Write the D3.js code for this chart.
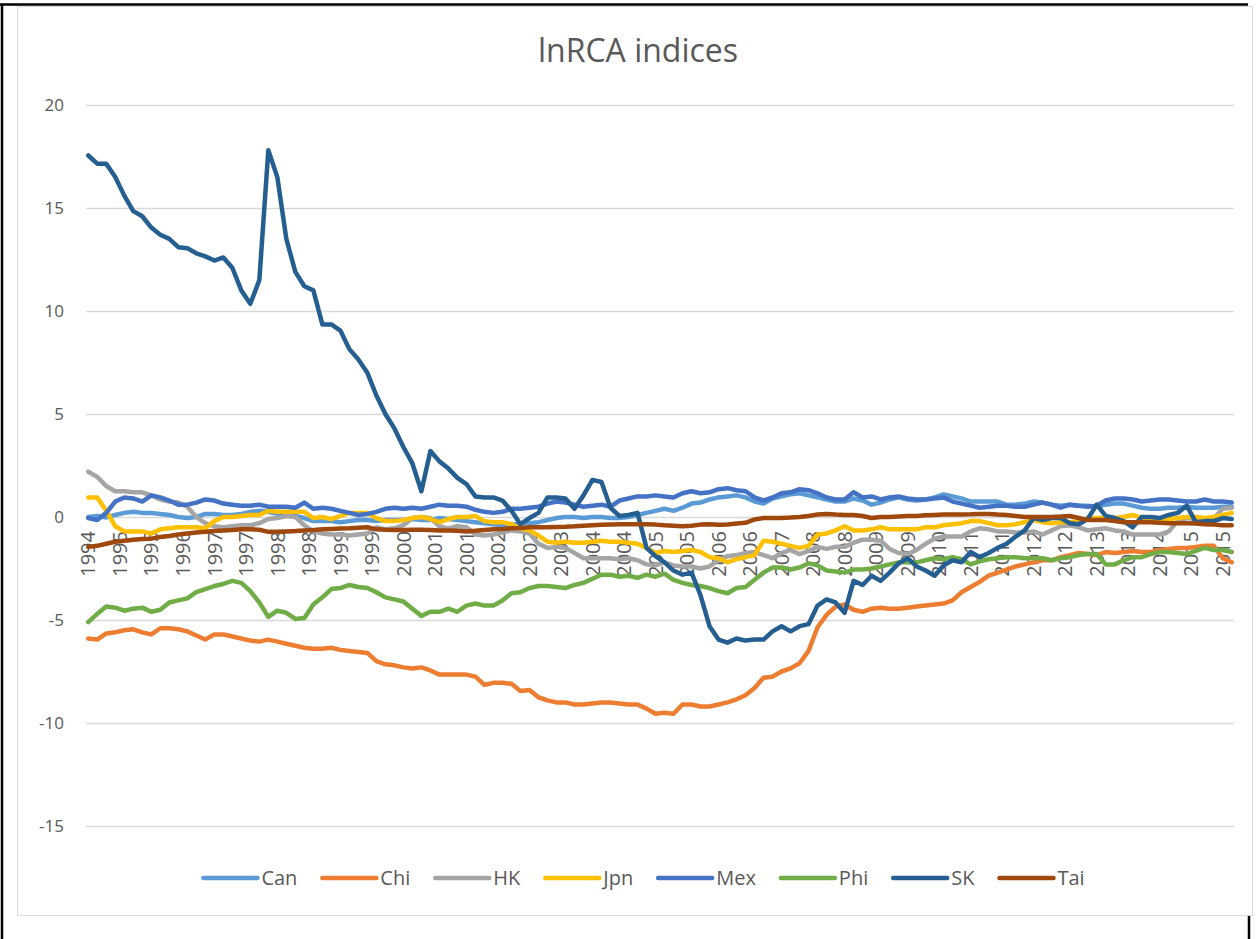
<!DOCTYPE html>
<html>
<head>
<meta charset="utf-8">
<script src="https://cdnjs.cloudflare.com/ajax/libs/d3/7.8.5/d3.min.js"></script>
<style>
body { margin: 0; background: #fff; }
text { font-family: "Open Sans", "Liberation Sans", sans-serif; fill: #595959; }
</style>
</head>
<body>
<div id="chart"></div>
<script>
// Data: one value every 2 months, Sep 1994 .. Jul 2015 (months 0, 2, ..., 254)
var tickLabels = ["1994","1995","1995","1996","1997","1997","1998","1998","1999","1999",
	"2000","2001","2001","2002","2002","2003","2004","2004","2005","2005",
	"2006","2006","2007","2008","2008","2009","2009","2010","2011","2011",
	"2012","2012","2013","2013","2014","2015","2015"];
var seriesNames = ["Can", "Chi", "HK", "Jpn", "Mex", "Phi", "SK", "Tai"];
var yTicks = [-15, -10, -5, 0, 5, 10, 15, 20];

var can = [0.0, 0.05, -0.02, 0.1, 0.2, 0.25, 0.2, 0.2, 0.15, 0.1,
	0.0, -0.05, 0.0, 0.15, 0.15, 0.1, 0.1, 0.15, 0.25, 0.3,
	0.25, 0.15, 0.1, 0.05, -0.05, -0.2, -0.2, -0.2, -0.25, -0.2,
	-0.15, -0.15, -0.2, -0.15, -0.15, -0.15, -0.1, -0.15, -0.15, -0.05,
	-0.1, -0.15, -0.2, -0.25, -0.3, -0.35, -0.4, -0.4, -0.3, -0.3,
	-0.25, -0.15, -0.05, 0.0, 0.0, -0.05, 0.0, 0.0, -0.05, -0.05,
	0.0, 0.1, 0.2, 0.3, 0.4, 0.3, 0.45, 0.65, 0.7, 0.85,
	0.95, 1.0, 1.05, 0.95, 0.75, 0.65, 0.9, 1.0, 1.1, 1.15,
	1.05, 0.95, 0.85, 0.75, 0.75, 0.9, 0.8, 0.6, 0.7, 0.85,
	0.95, 0.85, 0.8, 0.85, 0.95, 1.1, 1.0, 0.9, 0.75, 0.75,
	0.75, 0.75, 0.6, 0.6, 0.65, 0.75, 0.7, 0.6, 0.55, 0.6,
	0.55, 0.55, 0.5, 0.6, 0.65, 0.65, 0.55, 0.45, 0.4, 0.4,
	0.45, 0.45, 0.5, 0.45, 0.45, 0.45, 0.5, 0.5];
var chi = [-5.9, -5.95, -5.65, -5.6, -5.5, -5.45, -5.6, -5.7, -5.4, -5.4,
	-5.45, -5.55, -5.75, -5.95, -5.7, -5.7, -5.8, -5.9, -6.0, -6.05,
	-5.95, -6.05, -6.15, -6.25, -6.35, -6.4, -6.4, -6.35, -6.45, -6.5,
	-6.55, -6.6, -7.0, -7.15, -7.2, -7.3, -7.35, -7.3, -7.45, -7.65,
	-7.65, -7.65, -7.65, -7.75, -8.15, -8.05, -8.05, -8.1, -8.45, -8.4,
	-8.75, -8.9, -9.0, -9.0, -9.1, -9.1, -9.05, -9.0, -9.0, -9.05,
	-9.1, -9.1, -9.3, -9.55, -9.5, -9.55, -9.1, -9.1, -9.2, -9.2,
	-9.1, -9.0, -8.85, -8.65, -8.3, -7.8, -7.75, -7.5, -7.35, -7.1,
	-6.5, -5.35, -4.75, -4.35, -4.25, -4.5, -4.6, -4.45, -4.4, -4.45,
	-4.45, -4.4, -4.35, -4.3, -4.25, -4.2, -4.05, -3.65, -3.4, -3.15,
	-2.85, -2.7, -2.55, -2.4, -2.3, -2.2, -2.1, -2.1, -1.95, -1.85,
	-1.75, -1.8, -1.85, -1.7, -1.75, -1.7, -1.65, -1.7, -1.7, -1.6,
	-1.55, -1.5, -1.5, -1.45, -1.4, -1.4, -2.0, -2.2];
var hk = [2.2, 1.95, 1.5, 1.25, 1.25, 1.2, 1.2, 1.05, 0.85, 0.75,
	0.7, 0.5, 0.0, -0.3, -0.45, -0.5, -0.45, -0.4, -0.4, -0.3,
	-0.1, -0.05, 0.05, 0.0, -0.4, -0.7, -0.8, -0.85, -0.85, -0.9,
	-0.85, -0.8, -0.5, -0.6, -0.55, -0.4, -0.05, 0.0, -0.05, -0.45,
	-0.55, -0.45, -0.5, -0.85, -0.9, -0.85, -0.75, -0.65, -0.7, -0.8,
	-1.3, -1.5, -1.45, -1.5, -1.75, -2.0, -2.0, -2.0, -2.0, -2.05,
	-2.0, -2.1, -2.3, -2.35, -2.2, -2.35, -2.4, -2.4, -2.5, -2.4,
	-2.1, -1.9, -1.85, -1.75, -1.7, -1.85, -2.0, -1.75, -1.6, -1.8,
	-1.65, -1.45, -1.55, -1.45, -1.45, -1.25, -1.1, -1.1, -1.15, -1.55,
	-1.75, -1.8, -1.6, -1.3, -1.05, -0.95, -0.95, -0.95, -0.7, -0.55,
	-0.6, -0.7, -0.7, -0.75, -0.75, -0.7, -0.85, -0.65, -0.45, -0.4,
	-0.5, -0.65, -0.6, -0.55, -0.65, -0.7, -0.85, -0.85, -0.85, -0.85,
	-0.7, -0.2, -0.05, -0.1, -0.1, -0.05, 0.4, 0.45];
var jpn = [0.95, 0.95, 0.3, -0.45, -0.7, -0.7, -0.7, -0.8, -0.6, -0.55,
	-0.5, -0.5, -0.5, -0.55, -0.2, 0.0, 0.0, 0.05, 0.1, 0.1,
	0.3, 0.25, 0.25, 0.25, 0.25, -0.05, 0.0, -0.1, 0.05, 0.2,
	0.2, 0.2, -0.05, -0.2, -0.2, -0.15, -0.05, 0.0, -0.1, -0.25,
	-0.1, 0.0, 0.0, 0.05, -0.2, -0.25, -0.25, -0.35, -0.55, -0.65,
	-0.9, -1.2, -1.25, -1.2, -1.25, -1.25, -1.2, -1.15, -1.2, -1.2,
	-1.25, -1.3, -1.5, -1.75, -1.65, -1.7, -1.65, -1.6, -1.7, -1.95,
	-2.0, -2.2, -2.05, -1.95, -1.85, -1.15, -1.2, -1.3, -1.4, -1.5,
	-1.4, -0.85, -0.8, -0.65, -0.45, -0.65, -0.65, -0.6, -0.5, -0.6,
	-0.6, -0.6, -0.6, -0.5, -0.5, -0.4, -0.35, -0.3, -0.2, -0.2,
	-0.3, -0.4, -0.4, -0.35, -0.25, -0.15, -0.25, -0.3, -0.25, -0.25,
	-0.2, -0.05, -0.05, -0.05, -0.05, 0.0, 0.1, -0.05, -0.15, -0.15,
	-0.1, -0.05, 0.0, 0.0, -0.05, 0.0, 0.1, 0.2];
var mex = [-0.05, -0.15, 0.2, 0.75, 0.95, 0.9, 0.75, 1.05, 0.95, 0.8,
	0.6, 0.6, 0.7, 0.85, 0.8, 0.65, 0.6, 0.55, 0.55, 0.6,
	0.5, 0.5, 0.5, 0.45, 0.7, 0.4, 0.45, 0.4, 0.3, 0.2,
	0.1, 0.15, 0.25, 0.4, 0.45, 0.4, 0.45, 0.4, 0.5, 0.6,
	0.55, 0.55, 0.5, 0.35, 0.25, 0.2, 0.25, 0.4, 0.4, 0.45,
	0.5, 0.65, 0.75, 0.7, 0.6, 0.5, 0.55, 0.6, 0.5, 0.8,
	0.9, 1.0, 1.0, 1.05, 1.0, 0.95, 1.15, 1.25, 1.15, 1.2,
	1.35, 1.4, 1.3, 1.25, 0.95, 0.8, 0.95, 1.15, 1.2, 1.35,
	1.3, 1.15, 0.95, 0.85, 0.85, 1.2, 0.95, 1.0, 0.85, 0.95,
	1.0, 0.9, 0.85, 0.85, 0.9, 0.95, 0.75, 0.65, 0.55, 0.45,
	0.5, 0.55, 0.55, 0.5, 0.5, 0.6, 0.7, 0.6, 0.45, 0.6,
	0.55, 0.5, 0.55, 0.8, 0.9, 0.9, 0.85, 0.75, 0.8, 0.85,
	0.85, 0.8, 0.75, 0.75, 0.85, 0.75, 0.75, 0.7];
var phi = [-5.1, -4.7, -4.35, -4.4, -4.55, -4.45, -4.4, -4.6, -4.5, -4.15,
	-4.05, -3.95, -3.65, -3.5, -3.35, -3.25, -3.1, -3.2, -3.6, -4.15,
	-4.85, -4.55, -4.65, -4.95, -4.9, -4.25, -3.9, -3.5, -3.45, -3.3,
	-3.4, -3.45, -3.65, -3.9, -4.0, -4.1, -4.45, -4.8, -4.6, -4.6,
	-4.45, -4.6, -4.3, -4.2, -4.3, -4.3, -4.05, -3.7, -3.65, -3.45,
	-3.35, -3.35, -3.4, -3.45, -3.3, -3.2, -3.0, -2.8, -2.8, -2.9,
	-2.85, -2.95, -2.8, -2.9, -2.75, -3.05, -3.2, -3.3, -3.35, -3.45,
	-3.6, -3.7, -3.45, -3.4, -3.05, -2.7, -2.45, -2.45, -2.55, -2.45,
	-2.25, -2.35, -2.6, -2.65, -2.7, -2.55, -2.55, -2.5, -2.4, -2.3,
	-2.2, -2.2, -2.2, -2.1, -2.0, -2.05, -1.95, -2.05, -2.3, -2.15,
	-2.05, -2.0, -1.95, -1.95, -2.0, -2.0, -2.0, -2.1, -2.0, -1.95,
	-1.85, -1.8, -1.8, -2.3, -2.3, -2.1, -1.95, -1.95, -1.8, -1.7,
	-1.7, -1.75, -1.8, -1.65, -1.5, -1.6, -1.6, -1.7];
var sk = [17.55, 17.15, 17.15, 16.5, 15.6, 14.85, 14.6, 14.05, 13.7, 13.5,
	13.1, 13.05, 12.8, 12.65, 12.45, 12.6, 12.1, 11.0, 10.35, 11.5,
	17.8, 16.5, 13.5, 11.9, 11.2, 11.0, 9.35, 9.35, 9.05, 8.15,
	7.65, 7.0, 5.9, 5.0, 4.3, 3.4, 2.6, 1.25, 3.2, 2.7,
	2.35, 1.9, 1.6, 1.0, 0.95, 0.95, 0.8, 0.3, -0.35, -0.05,
	0.2, 0.95, 0.95, 0.9, 0.4, 1.05, 1.8, 1.7, 0.45, 0.05,
	0.1, 0.2, -1.5, -1.9, -2.2, -2.6, -2.8, -2.7, -3.8, -5.3,
	-5.95, -6.1, -5.9, -6.0, -5.95, -5.95, -5.55, -5.3, -5.55, -5.3,
	-5.2, -4.3, -4.0, -4.15, -4.65, -3.1, -3.3, -2.85, -3.1, -2.7,
	-2.25, -2.0, -2.4, -2.6, -2.85, -2.35, -2.1, -2.2, -1.7, -1.95,
	-1.75, -1.5, -1.3, -0.95, -0.65, -0.05, -0.15, -0.05, -0.05, -0.3,
	-0.35, -0.1, 0.6, 0.05, -0.05, -0.2, -0.5, 0.0, 0.0, -0.05,
	0.1, 0.2, 0.55, -0.25, -0.2, -0.2, -0.05, -0.1];
var tai = [-1.45, -1.4, -1.3, -1.2, -1.15, -1.1, -1.07, -1.05, -0.97, -0.92,
	-0.85, -0.8, -0.75, -0.72, -0.68, -0.65, -0.63, -0.6, -0.6, -0.62,
	-0.72, -0.72, -0.7, -0.68, -0.65, -0.63, -0.6, -0.58, -0.56, -0.55,
	-0.52, -0.5, -0.6, -0.62, -0.63, -0.63, -0.62, -0.62, -0.63, -0.65,
	-0.65, -0.67, -0.7, -0.67, -0.63, -0.6, -0.58, -0.55, -0.53, -0.5,
	-0.5, -0.5, -0.48, -0.47, -0.45, -0.42, -0.4, -0.38, -0.36, -0.35,
	-0.35, -0.35, -0.35, -0.37, -0.4, -0.42, -0.45, -0.42, -0.37, -0.35,
	-0.38, -0.36, -0.32, -0.28, -0.12, -0.05, -0.05, -0.05, -0.03, 0.0,
	0.05, 0.12, 0.15, 0.12, 0.1, 0.1, 0.05, -0.05, 0.0, 0.0,
	0.03, 0.05, 0.05, 0.08, 0.1, 0.12, 0.12, 0.12, 0.13, 0.15,
	0.15, 0.12, 0.1, 0.05, 0.0, 0.0, 0.0, 0.0, 0.02, 0.05,
	-0.05, -0.15, -0.15, -0.15, -0.2, -0.25, -0.25, -0.25, -0.25, -0.28,
	-0.3, -0.3, -0.3, -0.32, -0.35, -0.37, -0.4, -0.4];

var seriesValues = [can, chi, hk, jpn, mex, phi, sk, tai];
var colors = ["#5B9BD5", "#ED7D31", "#A5A5A5", "#FFC000", "#4472C4", "#70AD47", "#255E91", "#9E480E"];

var width = 1259,
	height = 939,
	nMonths = 255,
	svg = d3.select("#chart")
	.append("svg")
	.attr("width", width)
	.attr("height", height);

var x = d3.scalePoint()
	.domain(d3.range(nMonths))
	.range([86, 1234])
	.padding(0.5);

var y = d3.scaleLinear()
	.domain([-15, 20])
	.range([826, 105]);

// frame
svg.append("rect")
	.attr("x", 17.5).attr("y", 6.5)
	.attr("width", 1235).attr("height", 909)
	.attr("fill", "#fff")
	.attr("stroke", "#d9d9d9");
svg.append("path")
	.attr("d", "M0,4.5H1248M2,4V939M1249,916V939")
	.attr("stroke", "#000")
	.attr("stroke-width", 2.5)
	.attr("fill", "none");

// title
svg.append("text")
	.attr("x", 638)
	.attr("y", 62)
	.attr("text-anchor", "middle")
	.style("font-size", "32px")
	.text("lnRCA indices");

// gridlines + y labels
var yAxis = d3.axisLeft(y)
	.tickValues(yTicks)
	.tickFormat(function(d) { return String(d); })
	.tickSize(-(1234 - 86))
	.tickPadding(6);
var gy = svg.append("g")
	.attr("transform", "translate(86,0)")
	.call(yAxis);
gy.select(".domain").remove();
gy.selectAll(".tick line")
	.attr("stroke", "#d9d9d9")
	.attr("stroke-width", 1.4);
gy.selectAll(".tick text")
	.attr("x", -22)
	.style("font-size", "17px")
	.style("font-family", "'Open Sans', sans-serif")
	.attr("fill", "#595959");

// category labels at value 0
svg.append("g")
	.selectAll("text")
	.data(tickLabels)
	.enter()
	.append("text")
	.attr("transform", function(d, k) {
		return "translate(" + x(k * 7) + "," + (y(0) + 14) + ") rotate(-90)";
	})
	.attr("text-anchor", "end")
	.attr("dy", "0.36em")
	.style("font-size", "20px")
	.text(function(d) { return d; });

// series lines
var line = d3.line()
	.x(function(d, j) { return x(j * 2); })
	.y(function(d) { return y(d); });

svg.append("g")
	.selectAll("path")
	.data(seriesValues)
	.enter()
	.append("path")
	.attr("d", line)
	.attr("fill", "none")
	.attr("stroke", function(d, i) { return colors[i]; })
	.attr("stroke-width", 4.5)
	.attr("stroke-linejoin", "round")
	.attr("stroke-linecap", "round");

// legend
var legend = svg.append("g"),
	lx = 0;
var items = legend.selectAll("g")
	.data(seriesNames)
	.enter()
	.append("g");
items.append("line")
	.attr("x1", 0).attr("x2", 54)
	.attr("y1", 0).attr("y2", 0)
	.attr("stroke", function(d, i) { return colors[i]; })
	.attr("stroke-width", 4.5)
	.attr("stroke-linecap", "round");
items.append("text")
	.attr("x", 58)
	.attr("dy", "0.35em")
	.style("font-size", "20px")
	.text(function(d) { return d; });
items.each(function() {
	var g = d3.select(this),
		w = 58 + g.select("text").node().getComputedTextLength();
	g.attr("transform", "translate(" + lx + ",0)");
	lx += w + 25;
});
lx -= 25;
legend.attr("transform", "translate(" + (644 - lx / 2) + ",878)");
</script>
</body>
</html>
